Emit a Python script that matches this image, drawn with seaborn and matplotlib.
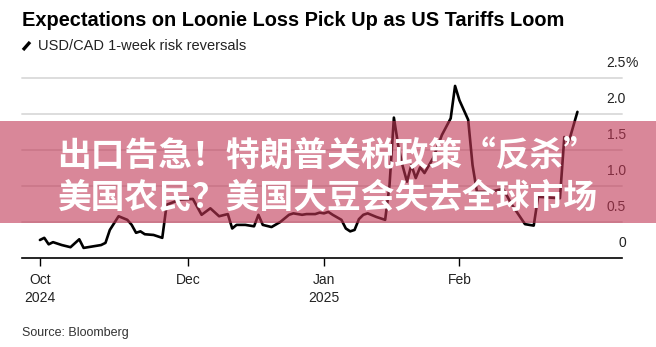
import matplotlib
matplotlib.use("Agg")
import matplotlib.pyplot as plt
import matplotlib.transforms as mtransforms
from matplotlib.patches import Rectangle
from matplotlib.lines import Line2D
import pandas as pd
import seaborn as sns

# USD/CAD 1-week risk reversals (%)
dates = [
    "2024-10-28", "2024-10-29", "2024-10-30", "2024-10-31", "2024-11-02",
    "2024-11-04", "2024-11-06", "2024-11-07", "2024-11-08", "2024-11-11",
    "2024-11-12", "2024-11-13", "2024-11-15", "2024-11-17", "2024-11-18",
    "2024-11-19", "2024-11-20", "2024-11-21", "2024-11-23", "2024-11-25",
    "2024-11-26", "2024-11-29", "2024-12-02", "2024-12-04", "2024-12-06",
    "2024-12-08", "2024-12-10", "2024-12-11", "2024-12-12", "2024-12-14",
    "2024-12-16", "2024-12-17", "2024-12-18", "2024-12-20", "2024-12-22",
    "2024-12-24", "2024-12-25", "2024-12-27", "2024-12-28", "2024-12-30",
    "2024-12-31", "2025-01-01", "2025-01-02", "2025-01-03", "2025-01-05",
    "2025-01-06", "2025-01-07", "2025-01-08", "2025-01-09", "2025-01-10",
    "2025-01-11", "2025-01-13", "2025-01-15", "2025-01-16", "2025-01-17",
    "2025-01-18", "2025-01-19", "2025-01-20", "2025-01-21", "2025-01-22",
    "2025-01-23", "2025-01-24", "2025-01-26", "2025-01-28", "2025-01-30",
    "2025-01-31", "2025-02-01", "2025-02-03", "2025-02-04", "2025-02-05",
    "2025-02-08", "2025-02-11", "2025-02-13", "2025-02-15", "2025-02-16",
    "2025-02-17", "2025-02-18", "2025-02-19", "2025-02-24", "2025-02-25",
    "2025-02-26", "2025-02-28",
]
risk_reversal = [
    0.25, 0.28, 0.19, 0.22, 0.18,
    0.15, 0.26, 0.14, 0.15, 0.18,
    0.21, 0.39, 0.58, 0.53, 0.46,
    0.35, 0.37, 0.33, 0.32, 0.28,
    0.74, 0.81, 0.82, 0.60, 0.69,
    0.58, 0.61, 0.41, 0.46, 0.46,
    0.44, 0.60, 0.46, 0.43, 0.50,
    0.60, 0.62, 0.60, 0.61, 0.61,
    0.63, 0.62, 0.64, 0.60, 0.53,
    0.41, 0.37, 0.39, 0.54, 0.60,
    0.62, 0.57, 0.53, 1.01, 1.95,
    1.56, 1.28, 1.06, 1.29, 1.11,
    1.26, 1.18, 1.39, 1.71, 1.94,
    2.39, 2.19, 1.92, 1.29, 0.92,
    0.92, 0.96, 0.74, 0.56, 0.47,
    0.46, 0.45, 0.85, 0.83, 1.68,
    1.61, 2.03,
]

y_ticks = [0, 0.5, 1.0, 1.5, 2.0, 2.5]
y_tick_labels = ["0", "0.5", "1.0", "1.5", "2.0", "2.5"]
x_tick_dates = ["2024-10-28", "2024-12-01", "2025-01-01", "2025-02-01"]
x_tick_labels = ["Oct\n2024", "Dec", "Jan\n2025", "Feb"]

title = "Expectations on Loonie Loss Pick Up as US Tariffs Loom"
series_name = "USD/CAD 1-week risk reversals"
source = "Source: Bloomberg"
banner_lines = ["出口告急！特朗普关税政策“反杀”", "美国农民？美国大豆会失去全球市场"]

sns.set_theme(style="white")
from matplotlib import font_manager
available = {f.name for f in font_manager.fontManager.ttflist}
base_font = "Liberation Sans Narrow" if "Liberation Sans Narrow" in available else "Liberation Sans"
plt.rcParams["font.family"] = [base_font, "DejaVu Sans"]

df = pd.DataFrame({"date": pd.to_datetime(dates), "value": risk_reversal})

W, H = 656, 347
fig = plt.figure(figsize=(W / 100, H / 100), dpi=100)
ax = fig.add_axes([22 / W, 1 - 258 / H, 600 / W, 180 / H])

sns.lineplot(data=df, x="date", y="value", ax=ax, color="black", linewidth=1.9,
             zorder=3)

x0 = pd.Timestamp("2024-10-28")
ax.set_xlim(x0 - pd.Timedelta(days=4.1), x0 + pd.Timedelta(days=133.2))
ax.set_ylim(0, 2.5)

# horizontal grid
for yv in y_ticks[1:]:
    ax.axhline(yv, color="#dddddd", linewidth=1.4, zorder=1, clip_on=False)

for s in ["top", "right", "left"]:
    ax.spines[s].set_visible(False)
ax.spines["bottom"].set_color("black")
ax.spines["bottom"].set_linewidth(1.2)
ax.spines["bottom"].set_zorder(4)

ax.set_xticks(pd.to_datetime(x_tick_dates))
ax.set_xticklabels(x_tick_labels, fontsize=10, color="#222222", linespacing=1.35)
ax.tick_params(axis="x", length=6, width=1, color="black", pad=5, bottom=True)
ax.set_xlabel("")
ax.set_ylabel("")
ax.set_yticks([])

# right-hand value labels sitting above their gridlines
lbl_trans = mtransforms.blended_transform_factory(fig.transFigure, ax.transData)
off = mtransforms.ScaledTranslation(0, 5.5 / 72, fig.dpi_scale_trans)
for yv, lab in zip(y_ticks, y_tick_labels):
    ax.text(626 / W, yv, lab, transform=lbl_trans + off, ha="right", va="bottom",
            fontsize=10, color="#222222")
ax.text(626 / W, y_ticks[-1], "%", transform=lbl_trans + off, ha="left",
        va="bottom", fontsize=10, color="#222222")

# header
fig.text(22 / W, 1 - 21 / H, title, fontsize=14.4, fontweight="bold",
         ha="left", va="center", color="black")
fig.add_artist(Line2D([23 / W, 30 / W], [1 - 50 / H, 1 - 42 / H], color="black",
                      linewidth=2.4, transform=fig.transFigure, solid_capstyle="butt"))
fig.text(38 / W, 1 - 46 / H, series_name, fontsize=10.5, ha="left", va="center",
         color="#222222")
fig.text(22 / W, 1 - 333 / H, source, fontsize=9, ha="left", va="center",
         color="#333333")

# overlay banner
fig.add_artist(Rectangle((0, 1 - 223 / H), 1, 102 / H, transform=fig.transFigure,
                         facecolor=(193 / 255, 55 / 255, 85 / 255), alpha=0.6,
                         edgecolor="none", zorder=10))
cjk = ["Noto Sans CJK SC", "DejaVu Sans"]
for i, line in enumerate(banner_lines):
    fig.text(0.5 - 1 / W, 1 - (155 + 42 * i) / H, line, family=cjk, fontsize=24.3,
             fontweight="heavy", color="white", ha="center", va="center", zorder=11)

fig.savefig("out.png", dpi=100)
